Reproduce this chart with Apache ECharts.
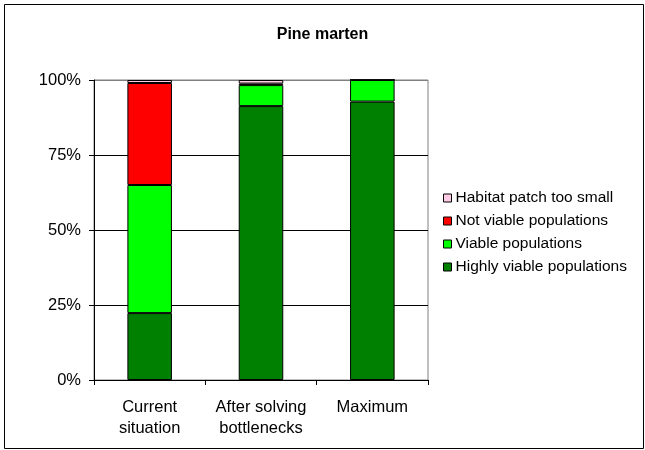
<!DOCTYPE html>
<html><head><meta charset="utf-8">
<script src="https://cdn.jsdelivr.net/npm/echarts@6/dist/echarts.min.js"></script>
<style>html,body{margin:0;padding:0;background:#fff}#c{width:645px;height:450px}</style>
</head><body><div id="c"></div>
<script>
const title = 'Pine marten';
const categories = ['Current\nsituation', 'After solving\nbottlenecks', 'Maximum'];
const highlyViable = [22.3, 91.3, 92.8];
const viable = [42.7, 7.0, 7.2];
const notViable = [34.0, 0.5, 0];
const patchTooSmall = [1.0, 1.2, 0];
const yTicks = [0, 25, 50, 75, 100];
const seriesNames = ['Highly viable populations', 'Viable populations', 'Not viable populations', 'Habitat patch too small'];
const colors = ['#008000', '#00FF00', '#FF0000', '#FFCCE5'];
const values = [highlyViable, viable, notViable, patchTooSmall];

const font = 'Liberation Sans, Arial, sans-serif';
const chart = echarts.init(document.getElementById('c'), null, {renderer: 'canvas'});
chart.setOption({
  animation: false,
  title: {text: title, left: 'center', top: 22, textStyle: {fontFamily: font, fontSize: 16, fontWeight: 'bold', color: '#000'}},
  graphic: [{type: 'rect', shape: {x: 4.5, y: 4.5, width: 639, height: 444}, style: {fill: 'none', stroke: '#000', lineWidth: 1}, silent: true, z: -1}],
  grid: {left: 94, right: 217, top: 80, bottom: 70, show: true, borderColor: '#808080', borderWidth: 1, backgroundColor: 'transparent'},
  legend: {
    orient: 'vertical', left: 438, top: 185, itemWidth: 8, itemHeight: 8, itemGap: 7,
    icon: 'rect',
    data: seriesNames.slice().reverse(),
    textStyle: {fontFamily: font, fontSize: 15.5, color: '#000', padding: [0, 0, 0, -1]},
    itemStyle: {borderColor: '#000', borderWidth: 1}
  },
  xAxis: {
    type: 'category', data: categories,
    axisLine: {lineStyle: {color: '#000', width: 1}},
    axisTick: {show: true, alignWithLabel: false, length: 5, lineStyle: {color: '#000'}},
    axisLabel: {interval: 0, hideOverlap: false, fontFamily: font, fontSize: 16.5, color: '#000', margin: 17, lineHeight: 21}
  },
  yAxis: {
    type: 'value', min: 0, max: 100, interval: 25,
    axisLine: {show: true, lineStyle: {color: '#000', width: 1}},
    axisTick: {show: true, length: 5, lineStyle: {color: '#000'}},
    axisLabel: {fontFamily: font, fontSize: 16.5, color: '#000', margin: 13, formatter: v => yTicks.includes(v) ? v + '%' : ''},
    splitLine: {show: true, lineStyle: {color: ['#000', '#000', '#000', '#000', '#808080'], width: 1}}
  },
  series: seriesNames.map((n, i) => ({
    name: n, type: 'bar', stack: 'total', data: values[i], barWidth: '40%',
    itemStyle: {color: colors[i], borderColor: '#000', borderWidth: 1}
  }))
});
</script></body></html>
